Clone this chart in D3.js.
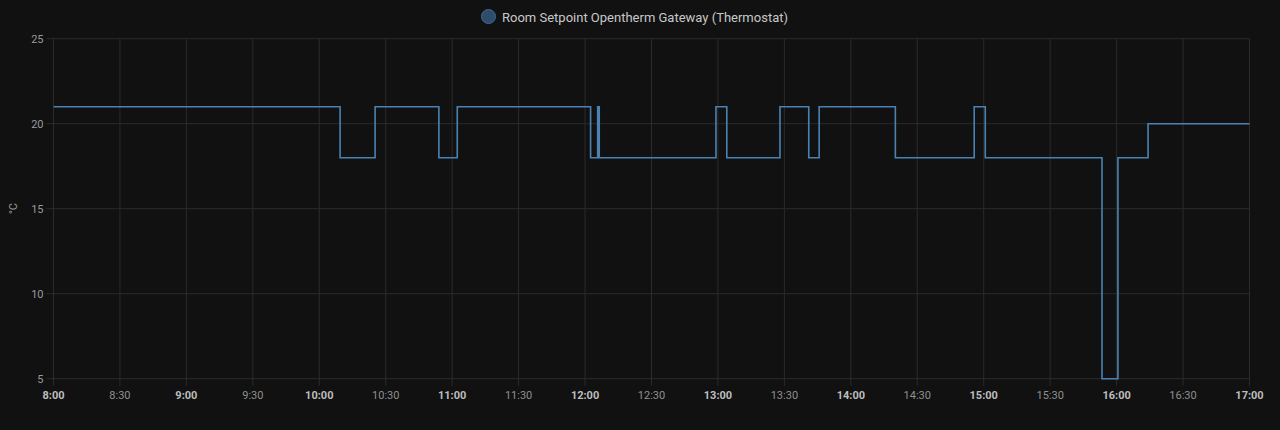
<!DOCTYPE html>
<html><head><meta charset="utf-8">
<script src="https://cdn.jsdelivr.net/npm/d3@7"></script>
<style>
html,body{margin:0;padding:0;background:#111111;}
svg{display:block;font-family:Roboto,"Noto Sans",sans-serif;}
</style></head>
<body>
<svg id="chart" width="1280" height="430"></svg>
<script>
const seriesName = "Room Setpoint Opentherm Gateway (Thermostat)";
const stepTimes = ["08:00:00","10:09:24","10:25:12","10:54:00","11:02:18","12:02:30","12:05:42","12:06:24","12:59:06","13:04:00","13:28:00","13:41:00","13:45:42","14:20:06","14:55:42","15:00:42","15:53:24","16:00:36","16:14:12","17:00:00"];
const stepValues = [21,18,21,18,21,18,21,18,21,18,21,18,21,18,21,18,5,18,20,20];
const yTicks = [5,10,15,20,25];
const xTickLabels = ["8:00","8:30","9:00","9:30","10:00","10:30","11:00","11:30","12:00","12:30","13:00","13:30","14:00","14:30","15:00","15:30","16:00","16:30","17:00"];

const parse = d3.timeParse("%Y-%m-%d %H:%M:%S");
const day = "2024-01-01 ";
const data = stepTimes.map((t,i)=>({t:parse(day+t), v:stepValues[i]}));
const tickDates = xTickLabels.map(l=>{const [h,m]=l.split(":");return parse(day+String(h).padStart(2,"0")+":"+m+":00");});

const svg = d3.select("#chart");
const L=53.5, R=1249.5, T=38.7, B=378.7;
const x = d3.scaleTime().domain([parse(day+"08:00:00"), parse(day+"17:00:00")]).range([L,R]);
const y = d3.scaleLinear().domain([5,25]).range([B,T]);

const grid = "#2b2b2b";
// horizontal grid
svg.append("g").selectAll("line").data(yTicks).join("line")
  .attr("x1",L-7).attr("x2",R).attr("y1",d=>y(d)).attr("y2",d=>y(d))
  .attr("stroke",grid).attr("stroke-width",1);
// vertical grid
svg.append("g").selectAll("line").data(tickDates).join("line")
  .attr("x1",d=>x(d)).attr("x2",d=>x(d)).attr("y1",T).attr("y2",B+7)
  .attr("stroke",grid).attr("stroke-width",1);

// y labels
svg.append("g").selectAll("text").data(yTicks).join("text")
  .attr("x",L-10).attr("y",d=>y(d)).attr("dy","0.35em").attr("text-anchor","end")
  .attr("fill","#9a9a9a").attr("font-size",11).text(d=>d);
// x labels
svg.append("g").selectAll("text").data(tickDates).join("text")
  .attr("x",d=>x(d)).attr("y",B+20).attr("text-anchor","middle")
  .attr("fill",(d,i)=>xTickLabels[i].endsWith(":00")?"#bdbdbd":"#8f8f8f")
  .attr("font-weight",(d,i)=>xTickLabels[i].endsWith(":00")?"bold":"normal")
  .attr("font-size",11).text((d,i)=>xTickLabels[i]);

// y axis title
svg.append("text").attr("transform",`translate(17,${(T+B)/2}) rotate(-90)`)
  .attr("text-anchor","middle").attr("fill","#9a9a9a").attr("font-size",11).text("°C");

// line
const line = d3.line().x(d=>x(d.t)).y(d=>y(d.v)).curve(d3.curveStepAfter);
svg.append("path").datum(data).attr("d",line).attr("fill","none")
  .attr("stroke","#4a82b4").attr("stroke-width",1.6);

// legend
svg.append("circle").attr("cx",488.5).attr("cy",16.5).attr("r",7)
  .attr("fill","#2f4d6b").attr("stroke","#3e6b96").attr("stroke-width",1);
svg.append("text").attr("x",502).attr("y",17).attr("dy","0.35em")
  .attr("fill","#c8c8c8").attr("font-size",13).text(seriesName);
</script>
</body></html>
